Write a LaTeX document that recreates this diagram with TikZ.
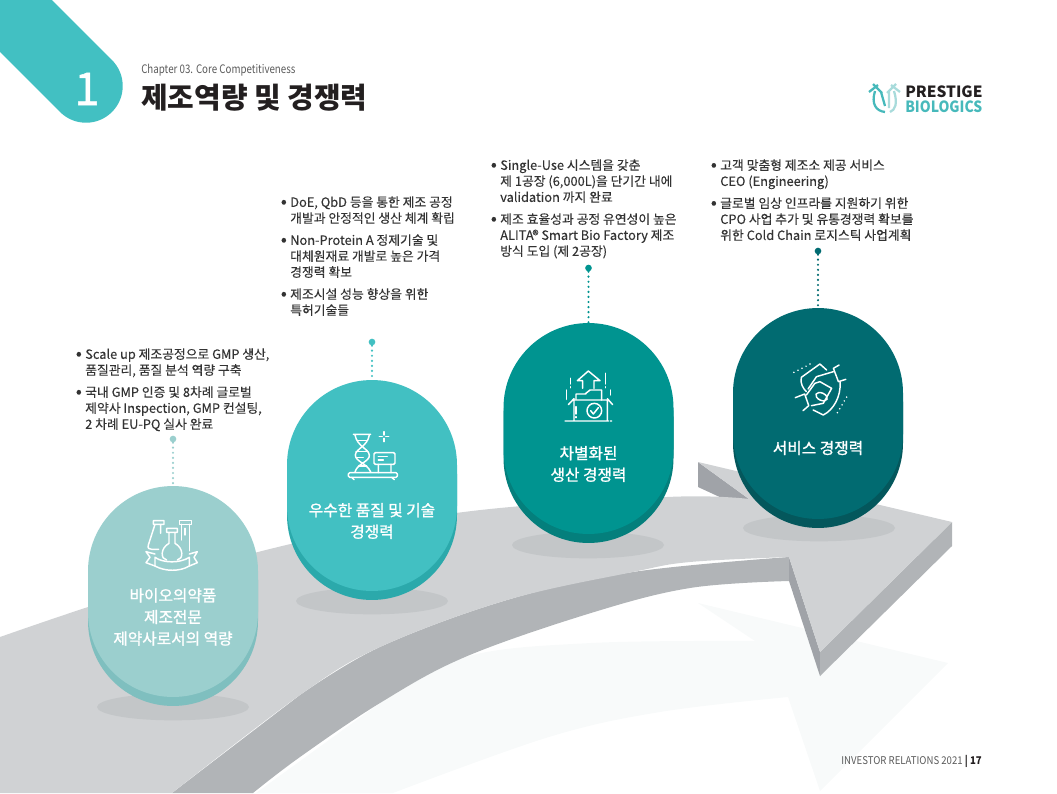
\documentclass[tikz,border=0pt]{standalone}
\usepackage{fontspec}
\setmainfont{Noto Sans CJK KR}
\newfontfamily\midfont[FakeBold=1.2]{Noto Sans CJK KR}
\newfontfamily\txtfont[FakeBold=0.2]{Noto Sans CJK KR}
\usepackage{xcolor}
\definecolor{teal1}{HTML}{9BCFCE}
\definecolor{teal1r}{HTML}{7FBFBF}
\definecolor{teal2}{HTML}{42C0C2}
\definecolor{teal2r}{HTML}{2BA9AB}
\definecolor{teal3}{HTML}{009490}
\definecolor{teal3r}{HTML}{047F7C}
\definecolor{teal4}{HTML}{016B71}
\definecolor{teal4r}{HTML}{04575C}
\definecolor{face}{HTML}{D0D2D4}
\definecolor{band}{HTML}{B1B4B7}
\definecolor{side}{HTML}{A0A3A8}
\definecolor{shade}{HTML}{C3C6C8}
\definecolor{ghost}{HTML}{F8FAFA}
\definecolor{ink}{HTML}{231F20}
\definecolor{body}{HTML}{333333}
\definecolor{mute}{HTML}{5A5A5A}
\definecolor{logoa}{HTML}{47B9BB}
\definecolor{logob}{HTML}{A8DBDB}
\usepackage{tikz}
\usetikzlibrary{arrows.meta,positioning,calc,shapes.geometric}
\newcommand{\blt}{\llap{{\fontsize{13}{12}\selectfont\raisebox{-0.4pt}{•}}\hspace{2.6pt}}}
\tikzset{
  bubble/.style={rectangle,rounded corners=63.7pt,minimum width=127.5pt,minimum height=158.2pt,inner sep=0pt},
  shadowell/.style={ellipse,fill=shade,minimum width=114pt,minimum height=20pt,inner sep=0pt},
  lbl/.style={font=\fontsize{11.8}{16.2}\midfont,text=white,align=center,inner sep=0pt},
  txt/.style={font=\fontsize{9.6}{12}\txtfont,text=body,align=left,anchor=north west,inner sep=0pt},
  pin/.style={circle,inner sep=0pt,minimum size=5pt},
  dots/.style={line width=1.8pt,line cap=round,dash pattern=on 0pt off 3.8pt},
  icon/.style={draw=white,line width=1.1pt,line join=round,line cap=round},
}
\begin{document}
\begin{tikzpicture}[x=0.75pt,y=-0.75pt]
\useasboundingbox (0,0) rectangle (1057,793);
\fill[ghost] (256,793) -- plot[smooth,tension=0.6] coordinates {(380,703) (465,657) (591,643) (755,641)} -- (698,603) -- (948,663) -- (820,791) -- (788,697) -- plot[smooth,tension=0.6] coordinates {(788,697) (660,712) (549,737) (393,793)} -- cycle;
\fill[band] (172,793) -- plot[smooth,tension=0.6] coordinates {(300,695) (380,647) (507,600) (633,572) (789,557)} -- (789,581) -- plot[smooth,tension=0.6] coordinates {(789,581) (690,588) (591,613) (465,657) (380,703) (300,757) (253,793)} -- cycle;
\fill[side] (698,462) -- (698,487) -- (724,499) -- (749,499) -- cycle;
\fill[side] (789,557) -- (789,581) -- (820,676) -- (820,652) -- cycle;
\fill[band] (952,522) -- (952,546) -- (820,676) -- (820,652) -- cycle;
\fill[face] (0,793) -- (0,637) -- plot[smooth,tension=0.6] coordinates {(0,637) (88,607) (258,552) (456,513) (667,497) (749,499)} -- (698,462) -- (952,522) -- (820,652) -- (789,557) -- plot[smooth,tension=0.6] coordinates {(789,557) (690,562) (633,572) (507,600) (380,647) (300,695) (172,793)} -- cycle;
\draw[teal2,line width=55.1pt,line cap=round] (-30,-30) -- (86,86);
\node[font=\fontsize{34}{34}\midfont,text=white,inner sep=0pt] (num) at (87,89) {1};
\node[font=\fontsize{8.8}{12}\selectfont,text=mute,anchor=west,inner sep=0pt] (chap) at (141,70) {\scalebox{0.83}[1]{Chapter 03. Core Competitiveness}};
\node[font=\fontsize{21.7}{26}\bfseries,text=ink,anchor=west,inner sep=0pt] (title) at (141,98) {제조역량 및 경쟁력};
\node[font=\fontsize{11.6}{11.6}\bfseries,text=ink,anchor=west,inner sep=0pt] (logo1) at (905,92) {PRESTIGE};
\node[font=\fontsize{11.6}{11.6}\bfseries,text=logoa,anchor=west,inner sep=0pt] (logo2) at (905,107) {\scalebox{0.9}[1]{BIOLOGICS}};
\draw[logoa,line width=1.7pt] (869,92) -- (878,85) (873,84) -- (882,93) (875,91) .. controls (871,104) and (876,111) .. (885,112) (881,92) -- (885,106);
\draw[logob,line width=1.7pt] (900,92) -- (891,85) (896,84) -- (887,93) (894,91) .. controls (898,104) and (895,110) .. (890,112) (889,92) -- (889,108);
\node[txt] (txt1) at (85,348) {\blt Scale up 제조공정으로 GMP 생산,\\품질관리, 품질 분석 역량 구축\\[4.5pt]\blt 국내 GMP 인증 및 8차례 글로벌\\제약사 Inspection, GMP 컨설팅,\\2 차례 EU-PQ 실사 완료};
\node[txt] (txt2) at (290,196) {\blt DoE, QbD 등을 통한 제조 공정\\개발과 안정적인 생산 체계 확립\\[4.5pt]\blt Non-Protein A 정제기술 및\\대체원재료 개발로 높은 가격\\경쟁력 확보\\[4.5pt]\blt 제조시설 성능 향상을 위한\\특허기술들};
\node[txt] (txt3) at (500,159) {\blt Single-Use 시스템을 갖춘\\제 1공장 (6,000L)을 단기간 내에\\validation 까지 완료\\[4.5pt]\blt 제조 효율성과 공정 유연성이 높은\\ALITA® Smart Bio Factory 제조\\방식 도입 (제 2공장)};
\node[txt] (txt4) at (720,159) {\blt 고객 맞춤형 제조소 제공 서비스\\CEO (Engineering)\\[4.5pt]\blt 글로벌 임상 인프라를 지원하기 위한\\CPO 사업 추가 및 유통경쟁력 확보를\\위한 Cold Chain 로지스틱 사업계획};
\node[shadowell] (sh1) at (173,707) {};
\node[shadowell] (sh2) at (372,601) {};
\node[shadowell] (sh3) at (588,545) {};
\node[shadowell] (sh4) at (819,528) {};
\node[bubble,fill=teal1r] (rim1) at (173,600.5) {};
\node[bubble,fill=teal1] (bub1) at (173,591.5) {};
\node[bubble,fill=teal2r] (rim2) at (372,494.5) {};
\node[bubble,fill=teal2] (bub2) at (372,485.5) {};
\node[bubble,fill=teal3r] (rim3) at (588.5,437.5) {};
\node[bubble,fill=teal3] (bub3) at (588.5,428.5) {};
\node[bubble,fill=teal4r] (rim4) at (818,422.5) {};
\node[bubble,fill=teal4] (bub4) at (818,413.5) {};
\node[pin,fill=teal1] (pin1) at (173,439) {};
\node[pin,fill=teal2] (pin2) at (372,342) {};
\node[pin,fill=teal3] (pin3) at (588.5,268) {};
\node[pin,fill=teal4] (pin4) at (818,251) {};
\draw[dots,teal1] (pin1) -- (bub1.north);
\draw[dots,teal2] (pin2) -- (bub2.north);
\draw[dots,teal3] (pin3) -- (bub3.north);
\draw[dots,teal4] (pin4) -- (bub4.north);
\node[lbl] (lab1) at (173,617) {바이오의약품\\제조전문\\제약사로서의 역량};
\node[lbl] (lab2) at (372,521) {우수한 품질 및 기술\\경쟁력};
\node[lbl] (lab3) at (588.5,464) {차별화된\\생산 경쟁력};
\node[lbl] (lab4) at (818,448) {서비스 경쟁력};
\begin{scope}[shift={(70,480)},x=0.25pt,y=-0.25pt]
\draw[icon] (250,122) -- (282,122) -- (282,133) -- (250,133) -- cycle (255,133) -- (235,195) .. controls (232,205) and (238,208) .. (245,208) -- (266,208) (272,133) -- (272,160);
\draw[icon] (328,122) -- (365,122) -- (365,133) -- (328,133) -- cycle (358,133) -- (358,212) (335,133) -- (335,180) (345,145) -- (345,165);
\draw[icon] (290,145) -- (322,145) -- (322,157) -- (290,157) -- cycle (297,157) -- (297,190) .. controls (270,205) and (272,238) .. (290,240) (315,157) -- (315,190) .. controls (342,205) and (340,238) .. (322,240);
\draw[icon] (255,232) .. controls (280,250) and (330,250) .. (358,232) -- (358,258) .. controls (330,275) and (285,275) .. (255,258) -- cycle;
\draw[icon] (255,222) -- (228,215) -- (240,232) -- (228,248) -- (255,258) (358,222) -- (382,215) -- (372,232) -- (382,248) -- (358,258);
\end{scope}
\begin{scope}[shift={(280,330)},x=0.25pt,y=-0.25pt]
\draw[icon] (220,313) -- (272,313) (225,315) .. controls (232,350) and (265,355) .. (268,375) .. controls (270,395) and (232,400) .. (225,426) (268,315) .. controls (262,350) and (228,355) .. (226,375) .. controls (226,395) and (262,400) .. (272,426);
\draw[icon] (232,332) -- (262,332) (228,365) -- (264,365) (228,382) -- (250,382) (236,408) -- (260,408);
\draw[icon,rounded corners=1pt] (205,428) -- (352,428) -- (352,442) -- (205,442) -- cycle;
\draw[icon] (215,442) -- (222,449) (335,442) -- (343,449) (295,403) -- (295,428) (333,403) -- (333,428);
\draw[icon,rounded corners=1pt] (282,368) -- (345,368) -- (345,403) -- (282,403) -- cycle;
\draw[icon] (295,380) -- (322,380) (295,390) -- (310,390) (312,305) -- (312,315) (312,325) -- (312,335) (298,320) -- (307,320) (317,320) -- (326,320);
\end{scope}
\begin{scope}[shift={(500,260)},x=0.25pt,y=-0.25pt]
\draw[icon] (248,385) -- (248,362) -- (232,362) -- (265,333) -- (300,362) -- (282,362) -- (282,385);
\draw[icon] (212,355) -- (212,372) (212,380) -- (212,383) (317,340) -- (317,372) (317,380) -- (317,383) (200,390) -- (200,418) (332,390) -- (332,405) (228,440) -- (228,462) (228,470) -- (228,473);
\draw[icon] (222,420) -- (322,420) -- (322,483) (222,483) -- (222,420) (205,434) -- (222,416) (322,416) -- (338,434) (195,483) -- (325,483) (331,483) -- (335,483);
\draw[icon] (228,418) -- (228,402) -- (258,402) (255,402) -- (270,390) -- (305,390) -- (305,420);
\draw[icon] (283,452) circle[radius=22];
\draw[icon] (272,452) -- (280,462) -- (295,443);
\end{scope}
\begin{scope}[shift={(690,240)},x=0.253pt,y=-0.25pt]
\draw[icon] (330,412) -- (385,372) -- (405,390) (330,412) .. controls (326,430) and (335,445) .. (345,455) (445,425) .. controls (448,470) and (425,510) .. (395,525) -- (365,510);
\draw[icon] (312,473) -- (340,462) -- (352,497) -- (335,512) (425,385) -- (442,375) (425,385) -- (440,425) -- (462,418);
\draw[icon] (350,447) -- (375,410) -- (425,395) (345,465) -- (370,430) -- (385,425) -- (420,445) -- (395,490) -- (360,497);
\draw[icon] (390,470) ellipse[x radius=18,y radius=11,rotate=-25];
\draw[icon,line width=1.3pt,dash pattern=on 0pt off 3.4pt] (308,397) -- (360,370) (437,518) -- (465,470);
\end{scope}
\node[font=\fontsize{8}{10}\selectfont,text=mute,anchor=east,inner sep=0pt] (foot) at (982,761) {\scalebox{0.9}[1]{INVESTOR RELATIONS 2021 {\color{ink}\bfseries | 17}}};
\end{tikzpicture}
\end{document}
